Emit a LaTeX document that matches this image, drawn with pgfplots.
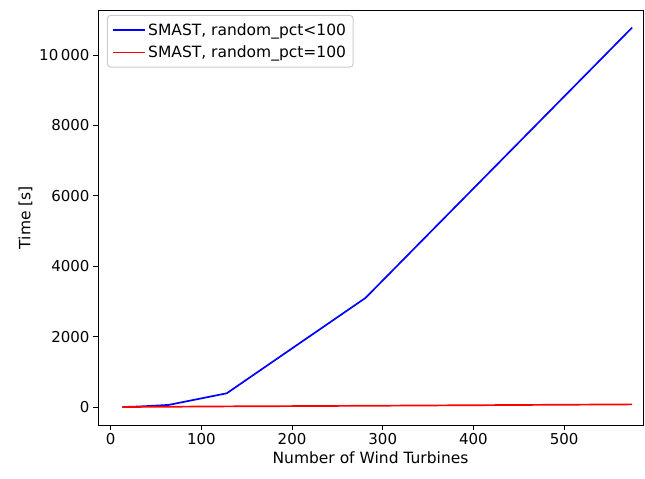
\documentclass[border=0pt]{standalone}
\usepackage{fontspec}
\setmainfont{DejaVu Sans}
\usepackage{pgfplots}
\pgfplotsset{compat=1.18}

\begin{document}
\begin{tikzpicture}
\begin{axis}[
  scale only axis,
  width=545pt, height=415pt,
  xmin=-14, xmax=587,
  ymin=-511, ymax=11280,
  xtick={0,100,200,300,400,500},
  ytick={0,2000,4000,6000,8000,10000},
  /pgf/number format/assume math mode=true,
  /pgf/number format/1000 sep={\,},
  /pgf/number format/min exponent for 1000 sep=4,
  scaled y ticks=false,
  tick label style={font=\fontsize{15}{18}\selectfont},
  label style={font=\fontsize{15.5}{18}\selectfont},
  xlabel={Number of Wind Turbines},
  ylabel={Time [s]},
  tick align=outside,
  tick pos=left,
  major tick length=5pt,
  axis line style={line width=0.9pt},
  every tick/.style={black, line width=0.9pt},
  legend style={at={(0.0165,0.988)}, anchor=north west,
    font=\fontsize{15.5}{18}\selectfont, draw=black!20, rounded corners=3pt,
    line width=1pt, inner xsep=5pt, inner ysep=6pt, row sep=5pt,
    /tikz/every even column/.append style={column sep=12pt}},
  legend cell align=left,
  legend image code/.code={\draw[#1, line width=1.7pt, sharp corners] (0pt,0pt) -- (32pt,0pt);},
]
\addplot[blue, line width=1.7pt] coordinates {
  (13,0) (32,15) (64,60) (128,390) (281,3100) (575,10780)
};
\addlegendentry{SMAST, random\_pct<100}
\addplot[red, line width=1.7pt] coordinates {
  (13,0) (32,3) (64,8) (128,18) (281,35) (575,75)
};
\addlegendentry{SMAST, random\_pct=100}
\end{axis}
\path ([shift={(-98pt,-54pt)}]current axis.south west) rectangle ([shift={(2pt,10pt)}]current axis.north east);
\end{tikzpicture}
\end{document}
